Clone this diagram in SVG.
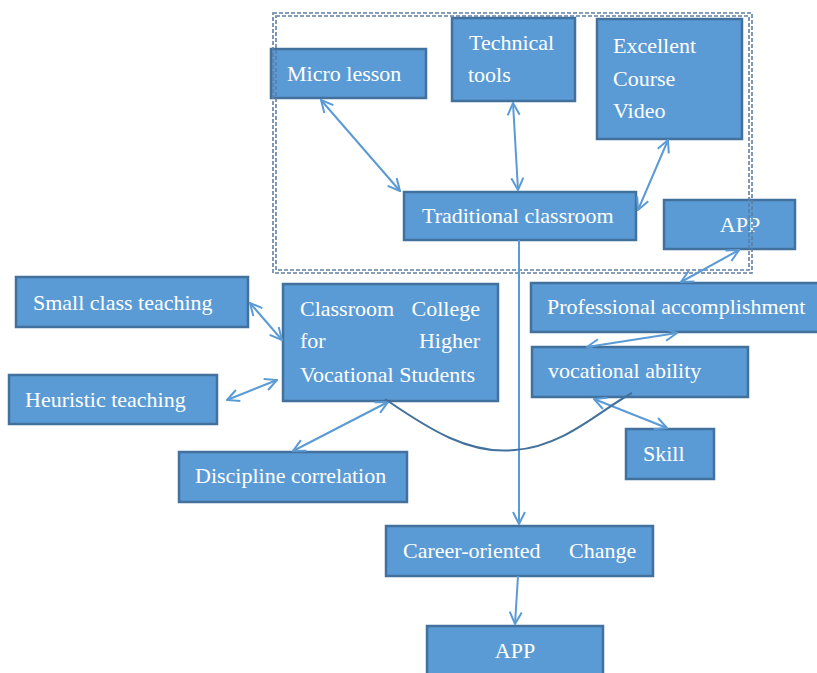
<svg xmlns="http://www.w3.org/2000/svg" width="817" height="673" viewBox="0 0 817 673">
<style>
.box{fill:#5b9bd5;stroke:#41719c;stroke-width:2.5}
.t{font-family:"Liberation Serif","Times New Roman",serif;font-size:22px;fill:#ffffff}
.c{fill:none;stroke:#5b9bd5;stroke-width:2}
.dash{fill:none;stroke:#5f7fa3;stroke-width:1.6;stroke-dasharray:4 2}
</style>
<defs>
<marker id="ah" viewBox="0 0 14 14" refX="13" refY="7" markerWidth="14" markerHeight="14" markerUnits="userSpaceOnUse" orient="auto-start-reverse">
<path d="M1,1 L13,7 L1,13" fill="none" stroke="#5b9bd5" stroke-width="2"/>
</marker>
</defs>
<rect width="817" height="673" fill="#ffffff"/>

<g id="micro-lesson"><rect class="box" x="271" y="49" width="155" height="49"/><text class="t" x="287" y="81">Micro lesson</text></g>
<g id="technical-tools"><rect class="box" x="452" y="18" width="123" height="83"/><text class="t" x="469" y="50">Technical</text><text class="t" x="468" y="82">tools</text></g>
<g id="excellent-course-video"><rect class="box" x="597" y="19" width="145" height="120"/><text class="t" x="613" y="53">Excellent</text><text class="t" x="613" y="86">Course</text><text class="t" x="613" y="118">Video</text></g>
<g id="traditional-classroom"><rect class="box" x="404" y="192" width="232" height="48"/><text class="t" x="422" y="223">Traditional classroom</text></g>
<g id="app-top"><rect class="box" x="664" y="200" width="131" height="49"/><text class="t" x="740" y="232" text-anchor="middle">APP</text></g>
<g id="group-border"><rect class="dash" x="273" y="13" width="479" height="260"/><rect class="dash" x="276" y="16" width="473" height="254"/></g>
<g id="small-class"><rect class="box" x="16" y="277" width="232" height="50"/><text class="t" x="33" y="310">Small class teaching</text></g>
<g id="classroom-college"><rect class="box" x="283" y="284" width="215" height="117"/><text class="t" x="300" y="316">Classroom</text><text class="t" x="480" y="316" text-anchor="end">College</text><text class="t" x="300" y="348">for</text><text class="t" x="480" y="348" text-anchor="end">Higher</text><text class="t" x="300" y="382">Vocational Students</text></g>
<g id="heuristic"><rect class="box" x="9" y="375" width="208" height="49"/><text class="t" x="25" y="407">Heuristic teaching</text></g>
<g id="discipline"><rect class="box" x="179" y="452" width="228" height="50"/><text class="t" x="195" y="483">Discipline correlation</text></g>
<g id="professional"><rect class="box" x="531" y="283" width="290" height="49"/><text class="t" x="547" y="314">Professional accomplishment</text></g>
<g id="vocational-ability"><rect class="box" x="532" y="347" width="216" height="50"/><text class="t" x="548" y="378">vocational ability</text></g>
<g id="skill"><rect class="box" x="626" y="429" width="88" height="50"/><text class="t" x="643" y="461">Skill</text></g>
<g id="career"><rect class="box" x="386" y="526" width="267" height="50"/><text class="t" x="403" y="558">Career-oriented</text><text class="t" x="569" y="558">Change</text></g>
<g id="app-bottom"><rect class="box" x="427" y="626" width="176" height="60"/><text class="t" x="515" y="658" text-anchor="middle">APP</text></g>

<g id="connectors">
<line class="c" x1="321" y1="100" x2="400" y2="191" marker-start="url(#ah)" marker-end="url(#ah)"/>
<line class="c" x1="513" y1="103" x2="518" y2="190" marker-start="url(#ah)" marker-end="url(#ah)"/>
<line class="c" x1="668" y1="140" x2="638" y2="210" marker-start="url(#ah)" marker-end="url(#ah)"/>
<line class="c" x1="739" y1="250" x2="681" y2="282" marker-start="url(#ah)" marker-end="url(#ah)"/>
<line class="c" x1="677" y1="333" x2="587" y2="347" marker-start="url(#ah)" marker-end="url(#ah)"/>
<line class="c" x1="594" y1="399" x2="667" y2="428" marker-start="url(#ah)" marker-end="url(#ah)"/>
<line class="c" x1="250" y1="303" x2="282" y2="340" marker-start="url(#ah)" marker-end="url(#ah)"/>
<line class="c" x1="227" y1="400" x2="277" y2="380" marker-start="url(#ah)" marker-end="url(#ah)"/>
<line class="c" x1="293" y1="451" x2="388" y2="402" marker-start="url(#ah)" marker-end="url(#ah)"/>
<line class="c" x1="519" y1="240" x2="519" y2="524" marker-end="url(#ah)"/>
<line class="c" x1="518" y1="576" x2="515" y2="624" marker-end="url(#ah)"/>
<path d="M385,399 C430,430 470,455 515,450 C565,446 600,410 632,393" fill="none" stroke="#41719c" stroke-width="2"/>
</g>
</svg>
